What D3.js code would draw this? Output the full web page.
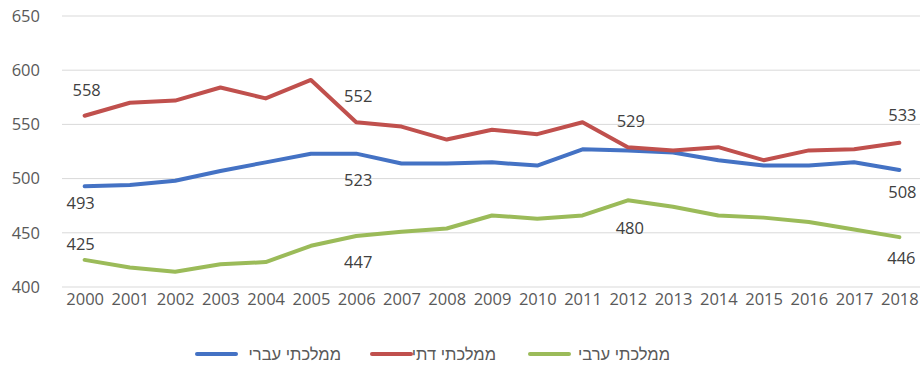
<!DOCTYPE html>
<html>
<head>
<meta charset="utf-8">
<script src="https://cdn.jsdelivr.net/npm/d3@7"></script>
<style>
  html, body { margin: 0; padding: 0; background: #fff; }
  svg { display: block; font-family: "Open Sans", "Liberation Sans", sans-serif; }
</style>
</head>
<body>
<svg id="chart" width="920" height="368"></svg>
<script>
// Years on the x axis
const years = ["2000","2001","2002","2003","2004","2005","2006","2007","2008","2009",
               "2010","2011","2012","2013","2014","2015","2016","2017","2018"];

// Series: average scores by school sector
const hebrewState    = [493, 494, 498, 507, 515, 523, 523, 514, 514, 515, 512, 527, 526, 524, 517, 512, 512, 515, 508];
const religiousState = [558, 570, 572, 584, 574, 591, 552, 548, 536, 545, 541, 552, 529, 526, 529, 517, 526, 527, 533];
const arabState      = [425, 418, 414, 421, 423, 438, 447, 451, 454, 466, 463, 466, 480, 474, 466, 464, 460, 453, 446];

const seriesNames  = ["ממלכתי עברי", "ממלכתי דתי", "ממלכתי ערבי"];
const seriesColors = ["#4472C4", "#C0504D", "#9BBB59"];

// Y-axis ticks
const yTicks = [400, 450, 500, 550, 600, 650];

// Years that carry a value label, per series
const labelYears = [
  ["2000", "2006", "2018"],
  ["2000", "2006", "2012", "2018"],
  ["2000", "2006", "2012", "2018"]
];

// Label placement relative to its point: [dx, dy] in pixels
const labelOffsets = [
  { "2000": [-4, 17], "2006": [2, 27], "2018": [3, 22] },
  { "2000": [2, -26], "2006": [2, -26], "2012": [3, -26], "2018": [3, -28] },
  { "2000": [-4, -16], "2006": [2, 26], "2012": [2, 28], "2018": [2, 21] }
];

const svg = d3.select("#chart");

const x = d3.scalePoint().domain(years).range([62, 922]).padding(0.5);
const y = d3.scaleLinear().domain([400, 650]).range([287, 16]);

const tickFont = "'Open Sans', sans-serif";
const tickSize = "16.5px";

// Horizontal gridlines
svg.append("g").selectAll("line")
  .data(yTicks)
  .join("line")
  .attr("x1", 62).attr("x2", 920)
  .attr("y1", d => y(d)).attr("y2", d => y(d))
  .attr("stroke", "#d9d9d9")
  .attr("stroke-width", 1);

// Y axis labels
const yAxis = d3.axisLeft(y).tickValues(yTicks).tickSize(0).tickPadding(0);
svg.append("g")
  .attr("transform", "translate(40,0)")
  .call(yAxis)
  .call(g => g.select(".domain").remove())
  .call(g => g.selectAll("text")
    .attr("fill", "#595959")
    .style("font-size", tickSize)
    .style("font-family", tickFont));

// X axis labels
const xAxis = d3.axisBottom(x).tickSize(0).tickPadding(0);
svg.append("g")
  .attr("transform", "translate(0,293)")
  .call(xAxis)
  .call(g => g.select(".domain").remove())
  .call(g => g.selectAll("text")
    .attr("fill", "#595959")
    .style("font-size", tickSize)
    .style("font-family", tickFont));

const allSeries = [hebrewState, religiousState, arabState];

const line = d3.line()
  .x((d, i) => x(years[i]))
  .y(d => y(d));

svg.append("g").selectAll("path")
  .data(allSeries)
  .join("path")
  .attr("d", d => line(d))
  .attr("fill", "none")
  .attr("stroke", (d, i) => seriesColors[i])
  .attr("stroke-width", 4)
  .attr("stroke-linejoin", "round")
  .attr("stroke-linecap", "round");

// Value labels at selected years
const labels = [];
allSeries.forEach((vals, si) => {
  labelYears[si].forEach(yr => {
    const idx = years.indexOf(yr);
    labels.push({ yr, v: vals[idx], off: labelOffsets[si][yr] });
  });
});

svg.append("g").selectAll("text")
  .data(labels)
  .join("text")
  .attr("x", d => x(d.yr) + d.off[0])
  .attr("y", d => y(d.v) + d.off[1])
  .attr("dy", "0.35em")
  .attr("text-anchor", "middle")
  .attr("fill", "#404040")
  .style("font-size", tickSize)
  .style("font-family", tickFont)
  .text(d => d.v);

// Legend
const legendItems = [
  { x1: 197, x2: 236, tx: 341 },
  { x1: 372, x2: 411, tx: 496 },
  { x1: 530, x2: 569, tx: 670 }
];
const lg = svg.append("g").selectAll("g")
  .data(seriesNames)
  .join("g");
lg.append("line")
  .attr("x1", (d, i) => legendItems[i].x1)
  .attr("x2", (d, i) => legendItems[i].x2)
  .attr("y1", 354).attr("y2", 354)
  .attr("stroke", (d, i) => seriesColors[i])
  .attr("stroke-width", 4)
  .attr("stroke-linecap", "round");
lg.append("text")
  .attr("x", (d, i) => legendItems[i].tx)
  .attr("y", 354)
  .attr("dy", "0.35em")
  .attr("text-anchor", "end")
  .attr("fill", "#595959")
  .style("font-size", "16.5px")
  .style("font-family", "'Liberation Sans', 'DejaVu Sans', sans-serif")
  .text(d => d);
</script>
</body>
</html>
